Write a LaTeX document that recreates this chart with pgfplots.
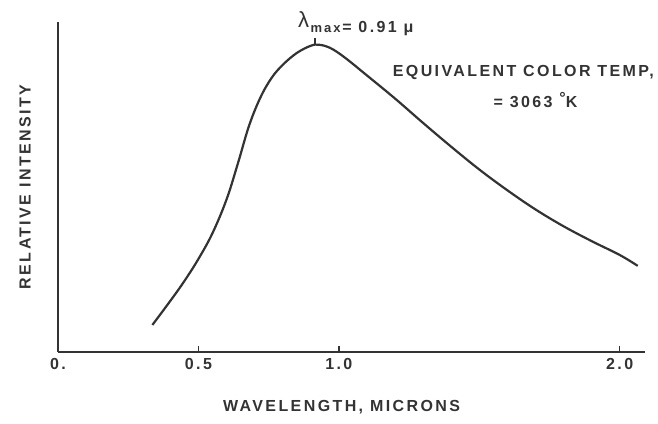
\documentclass[border=0pt]{standalone}
\usepackage{pgfplots}
\pgfplotsset{compat=1.18}
\usetikzlibrary{calc}
\usepackage{fontspec}
\setmainfont{Liberation Sans}[LetterSpace=15]
\begin{document}
\begin{tikzpicture}
\definecolor{ink}{gray}{0.2}
\begin{axis}[
  scale only axis,
  width=587pt, height=330pt,
  xmin=0, xmax=2.09, ymin=0, ymax=1,
  axis lines=left,
  axis line style={-, line width=2.2pt, ink},
  clip=false,
  xtick={0,0.5,1,2},
  xticklabels={0.,0.5,1.0,2.0},
  ytick=\empty,
  tick align=inside,
  major tick length=6pt,
  tick style={line width=1.3pt, ink},
  x tick label style={font=\fontsize{16}{16}\selectfont\bfseries, text=ink, yshift=-3pt},
  xlabel={WAVELENGTH, MICRONS},
  xlabel style={font=\fontsize{16}{16}\selectfont\bfseries, text=ink, at={(axis description cs:0.483,0)}, anchor=center, yshift=-55pt},
  ylabel={RELATIVE INTENSITY},
  ylabel style={font=\fontsize{16}{16}\selectfont\bfseries, text=ink, at={(axis description cs:0,0.5)}, anchor=center, yshift=33pt},
]
\addplot[ink, line width=2.2pt, smooth, tension=0.6] coordinates {
(0.336,0.082) (0.40,0.155) (0.45,0.215) (0.50,0.282) (0.55,0.360)
(0.60,0.462) (0.64,0.570) (0.68,0.685) (0.72,0.770) (0.76,0.830)
(0.80,0.870) (0.85,0.906) (0.90,0.928) (0.93,0.931) (0.97,0.921)
(1.02,0.893) (1.10,0.838) (1.20,0.768) (1.30,0.694) (1.40,0.622)
(1.50,0.553) (1.60,0.490) (1.70,0.432) (1.80,0.381) (1.90,0.336)
(2.00,0.294) (2.064,0.261)
};
\addplot[ink, line width=1.3pt] coordinates {(0.915,0.930) (0.915,0.950)};
\node[anchor=base west, text=ink, inner sep=0pt] at (axis cs:0.854,0.967)
  {\raisebox{5pt}{\fontsize{22}{22}\selectfont λ}\,{\fontsize{13}{13}\selectfont\bfseries max}\,{\fontsize{16}{16}\selectfont\bfseries = 0.91 μ}};
\node[text=ink, font=\fontsize{16}{16}\selectfont\bfseries] at (axis cs:1.657,0.848) {EQUIVALENT COLOR TEMP,};
\node[text=ink, font=\fontsize{16}{16}\selectfont\bfseries] at (axis cs:1.70,0.764) {= 3063 \raisebox{4pt}{°}K};
\path (rel axis cs:0,0) ++(-58pt,-72pt) rectangle ($(rel axis cs:1,1)+(13pt,22pt)$);
\end{axis}
\end{tikzpicture}
\end{document}
